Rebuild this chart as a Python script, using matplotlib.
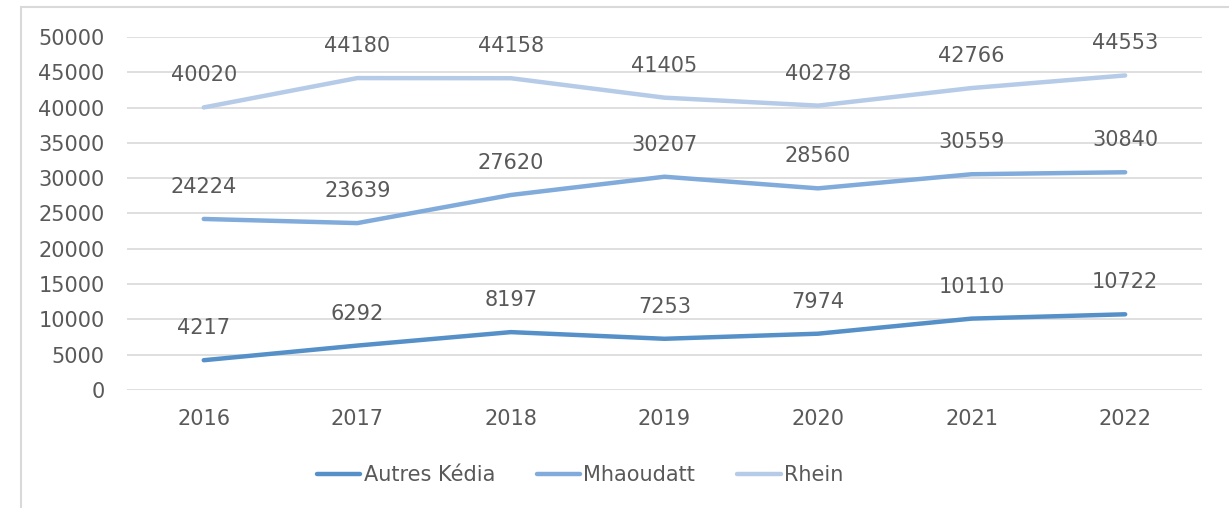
import matplotlib.pyplot as plt
from matplotlib.patches import Rectangle

years = ['2016', '2017', '2018', '2019', '2020', '2021', '2022']
autres_kedia = [4217, 6292, 8197, 7253, 7974, 10110, 10722]
mhaoudatt = [24224, 23639, 27620, 30207, 28560, 30559, 30840]
rhein = [40020, 44180, 44158, 41405, 40278, 42766, 44553]

series = [('Autres Kédia', autres_kedia, '#5590C8'),
          ('Mhaoudatt', mhaoudatt, '#80ABDB'),
          ('Rhein', rhein, '#B5CBE8')]

text_color = '#595959'
fs = 15
plt.rcParams['font.family'] = 'DejaVu Sans'

fig = plt.figure(figsize=(12.29, 5.08), dpi=100)
ax = fig.add_axes([0.1033, 0.2323, 0.8747, 0.6949])

# light frame around the chart area
fig.patches.append(Rectangle((21 / 1229, -0.1), 1.2, 1 - 7 / 508 + 0.1,
                             transform=fig.transFigure, fill=False,
                             edgecolor='#D9D9D9', linewidth=1.5))

x = list(range(len(years)))
for name, vals, col in series:
    ax.plot(x, vals, color=col, linewidth=3.2, solid_capstyle='round', label=name)
    for xi, v in zip(x, vals):
        ax.annotate(str(v), (xi, v), xytext=(0, 23), textcoords='offset points',
                    ha='center', va='center', fontsize=fs, color=text_color)

ax.set_xlim(-0.5, len(years) - 0.5)
ax.set_ylim(0, 50000)
ax.set_yticks(range(0, 50001, 5000))
ax.set_xticks(x)
ax.set_xticklabels(years)
ax.tick_params(axis='both', length=0, labelsize=fs, labelcolor=text_color)
ax.tick_params(axis='x', pad=14)
ax.tick_params(axis='y', pad=16)
ax.grid(axis='y', color='#D9D9D9', linewidth=1.2)
ax.set_axisbelow(True)
for s in ax.spines.values():
    s.set_visible(False)

leg = fig.legend(loc='center', bbox_to_anchor=(580 / 1229, 1 - 475 / 508), ncol=3,
                 frameon=False, fontsize=fs, handlelength=2.1, handletextpad=0.15,
                 columnspacing=2.0, labelcolor=text_color)

fig.savefig('out.png', dpi=100)
